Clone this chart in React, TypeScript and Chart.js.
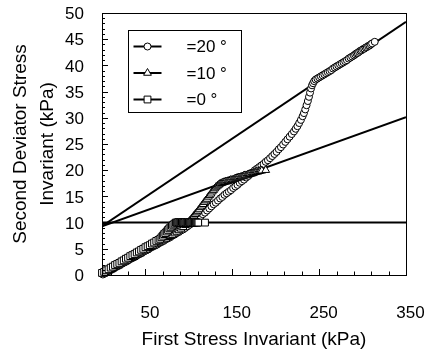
import React, { useEffect, useRef } from "react";
import { Chart, registerables } from "chart.js";

Chart.register(...registerables);

const FONT = "'Liberation Sans', Arial, sans-serif";

// Series labels (legend text as it appears in the reference)
const label20 = "=20 °";
const label10 = "=10 °";
const label0 = "=0 °";

// delta = 20 deg  (open circles)  [I1, sqrt(J2)]
const delta20: [number, number][] = [
  [1, 0.1], [3.5, 0.3], [6, 0.5], [8.5, 0.8], [11, 1.0], [13.5, 1.2], [16, 1.5], [18.5, 1.7],
  [21, 1.9], [23.5, 2.2], [26, 2.4], [28.5, 2.6], [31, 2.9], [33.5, 3.1], [36, 3.3], [38.5, 3.5],
  [41, 3.8], [43.5, 4.0], [46, 4.2], [48.5, 4.5], [51, 4.7], [53.5, 4.9], [56, 5.2], [58.5, 5.4],
  [61, 5.6], [63.5, 5.8], [66, 6.1], [68.5, 6.3], [71, 6.5], [73.5, 6.8], [76, 7.0], [78.5, 7.2],
  [81, 7.5], [83.5, 7.7], [86, 8.0], [88.5, 8.2], [91, 8.5], [93.5, 8.7], [96, 9.0], [98.5, 9.3],
  [101, 9.6], [103.5, 9.9], [106, 10.2], [108.5, 10.5], [111, 10.8], [113.5, 11.2], [116, 11.6],
  [118.5, 11.9], [121, 12.3], [123.5, 12.7], [126, 13.1], [128.5, 13.5], [131, 13.8], [133.5, 14.2],
  [136, 14.6], [138.5, 14.9], [141, 15.3], [143.5, 15.6], [146, 15.9], [148.5, 16.2], [151, 16.6],
  [153.5, 16.9], [156, 17.2], [158.5, 17.6], [161, 17.9], [163.5, 18.2], [166, 18.6], [168.5, 18.9],
  [171, 19.3], [173.5, 19.6], [176, 20.0], [178.5, 20.3], [181, 20.6], [183.5, 20.9], [186, 21.2],
  [188.5, 21.6], [191, 21.9], [193.5, 22.3], [196, 22.7], [198.5, 23.1], [201, 23.5], [203.5, 24.0],
  [206, 24.4], [208.5, 24.9], [211, 25.4], [213.5, 25.9], [216, 26.4], [218.5, 26.9], [221, 27.4],
  [223, 27.9], [225, 28.4], [227, 29.0], [229, 29.6], [231, 30.3], [232.5, 30.9], [234, 31.6],
  [235.5, 32.4], [237, 33.2], [238.3, 34.0], [239.5, 34.8], [240.7, 35.6], [241.8, 36.2],
  [243, 36.6], [244.3, 37.0], [246, 37.3], [248, 37.5], [250, 37.7], [252, 37.9], [254, 38.1],
  [256, 38.3], [258, 38.5], [260, 38.7], [262, 38.9], [264, 39.1], [266, 39.4], [268, 39.6],
  [270, 39.8], [272, 40.0], [274, 40.2], [276, 40.4], [278, 40.6], [280, 40.8], [282, 41.0],
  [284, 41.3], [286, 41.5], [288, 41.7], [290, 41.9], [291.5, 42.1], [293, 42.3], [294.5, 42.4],
  [296, 42.6], [297.5, 42.8], [299, 42.9], [300.5, 43.1], [302, 43.2], [303.5, 43.4], [305, 43.5],
  [306.5, 43.7], [308, 43.8], [309.5, 44.0], [311, 44.2], [314, 44.5],
];

// delta = 10 deg  (open triangles)
const delta10: [number, number][] = [
  [1, 0.2], [3.5, 0.4], [6, 0.7], [8.5, 0.9], [11, 1.1], [13.5, 1.4], [16, 1.6], [18.5, 1.8],
  [21, 2.1], [23.5, 2.3], [26, 2.5], [28.5, 2.7], [31, 3.0], [33.5, 3.2], [36, 3.4], [38.5, 3.7],
  [41, 3.9], [43.5, 4.1], [46, 4.4], [48.5, 4.6], [51, 4.8], [53.5, 5.1], [56, 5.3], [58.5, 5.5],
  [61, 5.8], [63.5, 6.0], [66, 6.2], [68.5, 6.5], [71, 6.7], [73.5, 6.9], [76, 7.2], [78.5, 7.4],
  [81, 7.6], [83.5, 7.9], [86, 8.2], [88.5, 8.5], [91, 8.8], [93.5, 9.1], [96, 9.5], [98, 9.8],
  [100, 10.1], [101.5, 10.4], [103, 10.7], [104.5, 11.0], [106, 11.3], [107.5, 11.6], [109, 11.9],
  [110.5, 12.2], [112, 12.5], [113.5, 12.9], [115, 13.2], [116.5, 13.5], [118, 13.9], [119.5, 14.2],
  [121, 14.5], [122.5, 14.9], [124, 15.2], [125.5, 15.5], [127, 15.9], [128.5, 16.2], [130, 16.5],
  [131.5, 16.8], [133, 17.0], [134.5, 17.2], [136, 17.4], [137.5, 17.5], [139, 17.6], [140.5, 17.7],
  [142, 17.8], [143.5, 17.8], [145, 17.9], [146.5, 18.0], [148, 18.1], [149.5, 18.1], [151, 18.2],
  [152.5, 18.3], [154, 18.4], [155.5, 18.5], [157, 18.6], [158.5, 18.6], [160, 18.7], [161.5, 18.8],
  [163, 18.9], [164.5, 19.0], [166, 19.0], [167.5, 19.1], [169, 19.2], [170.5, 19.3], [172, 19.3],
  [173.5, 19.4], [175, 19.5], [176.5, 19.6], [178, 19.7], [179.5, 19.7], [181, 19.8], [182.5, 19.9],
  [184, 19.9], [188.5, 20.0],
];

// delta = 0 deg  (open squares)
const delta0: [number, number][] = [
  [0, 0.4], [2.5, 0.6], [5, 0.9], [7.5, 1.1], [10, 1.4], [12.5, 1.6], [15, 1.9], [17.5, 2.1],
  [20, 2.3], [22.5, 2.6], [25, 2.8], [27.5, 3.1], [30, 3.3], [32.5, 3.6], [35, 3.8], [37.5, 4.0],
  [40, 4.3], [42.5, 4.5], [45, 4.8], [47.5, 5.0], [50, 5.3], [52.5, 5.5], [55, 5.7], [57.5, 6.0],
  [60, 6.2], [62.5, 6.5], [65, 6.7], [67, 6.9], [68.5, 7.2], [70, 7.5], [71.5, 7.8], [73, 8.0],
  [74.5, 8.3], [76, 8.6], [77.5, 8.9], [79, 9.1], [80.5, 9.4], [82, 9.6], [83.5, 9.8], [85, 10.0],
  [86, 10.0], [87, 10.0], [88, 10.1], [89, 10.0], [90, 10.0], [91, 10.0], [92, 10.1], [93, 10.0],
  [94, 10.0], [95, 10.0], [96, 10.1], [97, 10.0], [98, 10.0], [99, 10.0], [100, 10.1], [101, 10.0],
  [102, 10.0], [103, 10.0], [104, 10.1], [105, 10.0], [106, 10.0], [107, 10.0], [108, 10.1],
  [109, 10.0], [110, 10.0], [111, 10.0], [118.6, 10.0],
];

// Fitted failure lines (end points at the axis limits)
const fitX = [0, 350];
const fit20 = [9.3, 48.3];
const fit10 = [9.3, 30.1];
const fit0 = [10, 10];

// Axis ticks
const xTickValues = [50, 150, 250, 350];
const yTickValues = [0, 5, 10, 15, 20, 25, 30, 35, 40, 45, 50];

const toPoints = (arr: [number, number][]) => arr.map(([x, y]) => ({ x, y }));
const linePoints = (ys: number[]) => fitX.map((x, i) => ({ x, y: ys[i] }));

function drawMarker(ctx: CanvasRenderingContext2D, style: string, x: number, y: number, r: number) {
  ctx.beginPath();
  if (style === "circle") {
    ctx.arc(x, y, r, 0, Math.PI * 2);
  } else if (style === "triangle") {
    ctx.moveTo(x, y - r);
    ctx.lineTo(x + 0.866 * r, y + 0.5 * r);
    ctx.lineTo(x - 0.866 * r, y + 0.5 * r);
    ctx.closePath();
  } else {
    const s = r * Math.SQRT1_2;
    ctx.rect(x - s, y - s, 2 * s, 2 * s);
  }
  ctx.fillStyle = "#fff";
  ctx.fill();
  ctx.strokeStyle = "#000";
  ctx.lineWidth = 1;
  ctx.stroke();
}

const framePlugin = {
  id: "frameTicks",
  afterDatasetsDraw(chart: any) {
    const { ctx, chartArea, scales } = chart;
    const { left, right, top, bottom } = chartArea;
    ctx.save();
    ctx.strokeStyle = "#000";
    ctx.lineWidth = 1;
    ctx.strokeRect(left + 0.5, top + 0.5, right - left, bottom - top);
    ctx.beginPath();
    for (let v = 10; v <= 350; v += 20) {
      const px = Math.round(scales.x.getPixelForValue(v)) + 0.5;
      const len = xTickValues.includes(v) ? 6 : 3.5;
      ctx.moveTo(px, bottom);
      ctx.lineTo(px, bottom - len);
    }
    for (let v = 0; v <= 50; v += 1) {
      const py = Math.round(scales.y.getPixelForValue(v)) + 0.5;
      const len = v % 5 === 0 ? 6 : 3;
      ctx.moveTo(left, py);
      ctx.lineTo(left + len, py);
    }
    ctx.stroke();
    ctx.restore();
  },
};

const legendPlugin = {
  id: "boxLegend",
  afterDraw(chart: any) {
    const { ctx } = chart;
    const order = [0, 1, 2];
    ctx.save();
    ctx.fillStyle = "#fff";
    ctx.fillRect(128.5, 30.5, 113, 82);
    ctx.strokeStyle = "#000";
    ctx.lineWidth = 1;
    ctx.strokeRect(128.5, 30.5, 113, 82);
    order.forEach((di, i) => {
      const ds = chart.data.datasets[di];
      const y = 46.5 + i * 26.5;
      ctx.beginPath();
      ctx.moveTo(133.5, y);
      ctx.lineTo(161.5, y);
      ctx.strokeStyle = "#000";
      ctx.lineWidth = 2;
      ctx.stroke();
      drawMarker(ctx, ds.pointStyle, 147.5, y, ds.pointRadius);
      ctx.fillStyle = "#000";
      ctx.font = `17px ${FONT}`;
      ctx.textBaseline = "middle";
      ctx.textAlign = "left";
      ctx.fillText(ds.label, 186.5, y + 1);
    });
    ctx.restore();
  },
};

export default function App() {
  const canvasRef = useRef<HTMLCanvasElement | null>(null);

  useEffect(() => {
    if (!canvasRef.current) return;
    const markerBase = {
      showLine: false,
      pointBorderColor: "#000",
      pointBackgroundColor: "#fff",
      pointBorderWidth: 1,
      clip: false as any,
    };
    const lineBase = {
      showLine: true,
      borderColor: "#000",
      borderWidth: 2,
      pointRadius: 0,
      fill: false,
    };
    const chart = new Chart(canvasRef.current, {
      type: "scatter",
      data: {
        datasets: [
          { ...markerBase, label: label20, data: toPoints(delta20), pointStyle: "circle", pointRadius: 3.5, order: 3 },
          { ...markerBase, label: label10, data: toPoints(delta10), pointStyle: "triangle", pointRadius: 4.5, order: 2 },
          { ...markerBase, label: label0, data: toPoints(delta0), pointStyle: "rect", pointRadius: 4.8, order: 1 },
          { ...lineBase, label: "fit20", data: linePoints(fit20), order: 4 },
          { ...lineBase, label: "fit10", data: linePoints(fit10), order: 5 },
          { ...lineBase, label: "fit0", data: linePoints(fit0), order: 6 },
        ] as any,
      },
      options: {
        animation: false,
        responsive: false,
        devicePixelRatio: 1,
        events: [],
        layout: { padding: { left: 0, top: 13, right: 27, bottom: 0 } },
        plugins: { legend: { display: false }, tooltip: { enabled: false } },
        scales: {
          x: {
            type: "linear",
            min: 0,
            max: 350,
            afterBuildTicks: (s: any) => {
              s.ticks = xTickValues.map((v) => ({ value: v }));
            },
            afterFit: (s: any) => {
              s.height = 74;
              s.paddingLeft = 0;
              s.paddingRight = 0;
            },
            grid: { display: false, drawTicks: false },
            border: { display: false },
            ticks: {
              padding: 28,
              labelOffset: 4.5,
              maxRotation: 0,
              autoSkip: false,
              color: "#000",
              font: { family: FONT, size: 17 },
            },
            title: {
              display: true,
              text: "First Stress Invariant (kPa)",
              color: "#000",
              font: { family: FONT, size: 19, lineHeight: 1.0 },
              padding: { top: 0, bottom: 0 },
            },
          },
          y: {
            type: "linear",
            min: 0,
            max: 50,
            afterBuildTicks: (s: any) => {
              s.ticks = yTickValues.map((v) => ({ value: v }));
            },
            afterFit: (s: any) => {
              s.width = 102;
              s.paddingTop = 0;
              s.paddingBottom = 0;
            },
            grid: { display: false, drawTicks: false },
            border: { display: false },
            ticks: {
              padding: 18,
              labelOffset: 1.5,
              color: "#000",
              font: { family: FONT, size: 17 },
            },
            title: {
              display: true,
              text: ["Second Deviator Stress", "Invariant (kPa)"],
              color: "#000",
              font: { family: FONT, size: 19, lineHeight: 1.42 },
              padding: { top: 7, bottom: 0 },
            },
          },
        },
      } as any,
      plugins: [framePlugin, legendPlugin],
    });
    return () => chart.destroy();
  }, []);

  return (
    <div style={{ position: "absolute", left: 0, top: 0, width: 433, height: 349, background: "#fff" }}>
      <canvas ref={canvasRef} width={433} height={349} style={{ display: "block" }} />
    </div>
  );
}
